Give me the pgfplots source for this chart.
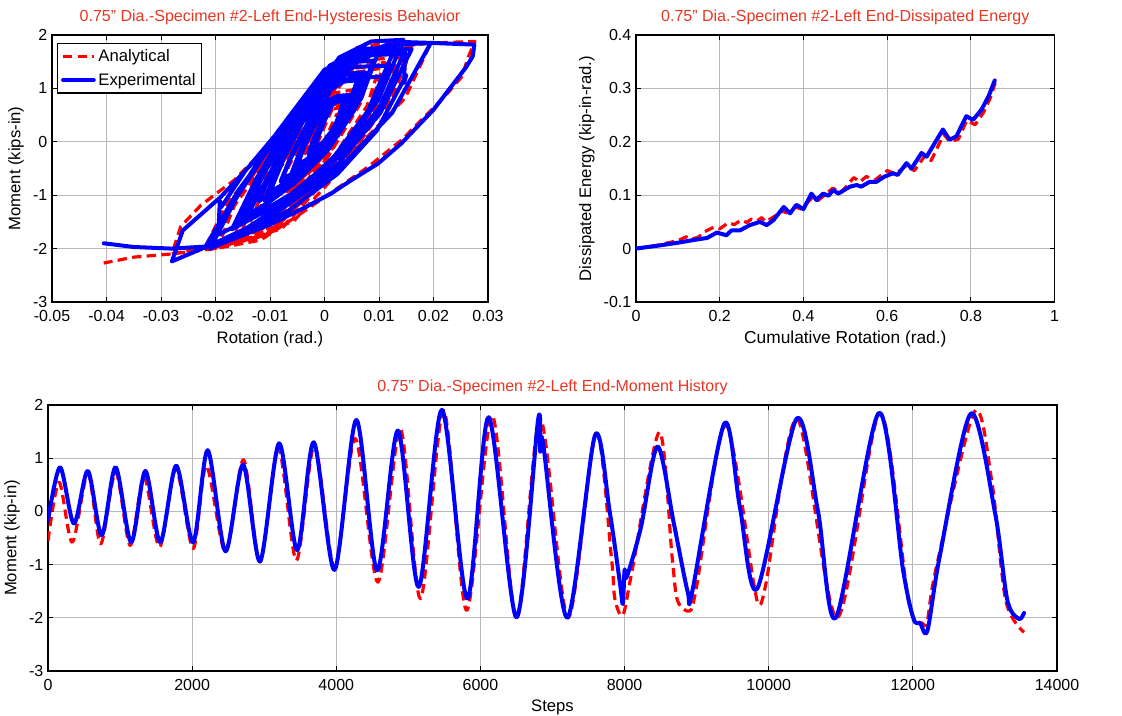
\documentclass[border=0pt]{standalone}
\usepackage{fontspec}
\setmainfont{Liberation Sans}
\usepackage{pgfplots}
\pgfplotsset{compat=1.18}
\definecolor{ttl}{RGB}{230,55,35}
\definecolor{mblue}{RGB}{0,0,255}
\definecolor{mred}{RGB}{255,0,0}
\pgfplotsset{
  mat/.style={
    scale only axis,
    anchor=south west,
    grid=major,
    grid style={black!28, line width=0.7pt},
    tick align=inside,
    tick style={black, line width=0.7pt},
    major tick length=3.5pt,
    axis line style={black, line width=1.2pt},
    every tick label/.append style={font=\fontsize{12}{14}\selectfont},
    every x tick label/.append style={yshift=-3pt},
    label style={font=\fontsize{12.5}{15}\selectfont},
    title style={font=\fontsize{12}{14}\selectfont, text=ttl, yshift=-2pt},
    /pgf/number format/assume math mode=true,
    /pgf/number format/1000 sep={},
    scaled ticks=false,
  },
  redd/.style={mred, line width=2.4pt, dash pattern=on 7pt off 4pt, line join=round},
  blu/.style={mblue, line width=3pt, line join=round, line cap=round},
}
\begin{document}
\begin{tikzpicture}[x=1pt,y=1pt]
\path[use as bounding box] (0,0) rectangle (841.5,536.25);
% ---------------- Hysteresis ----------------
\begin{axis}[mat, at={(39pt,309.75pt)}, width=327pt, height=200.25pt,
  xmin=-0.05, xmax=0.03, ymin=-3, ymax=2,
  xtick={-0.05,-0.04,-0.03,-0.02,-0.01,0,0.01,0.02,0.03},
  ytick={-3,-2,-1,0,1,2},
  xticklabel style={/pgf/number format/.cd, fixed, precision=2},
  xlabel={Rotation (rad.)}, ylabel={Moment (kips-in)},
  title={0.75" Dia.-Specimen \#2-Left End-Hysteresis Behavior},
  legend style={at={(0.012,0.97)}, anchor=north west, draw=black, line width=0.8pt,
    font=\fontsize{12.5}{15}\selectfont, inner sep=2.5pt, row sep=3pt},
  legend cell align=left,
  legend image code/.code={\draw[#1] (0pt,0pt) -- (23pt,0pt);},
]
\addplot[redd] coordinates {
(-0.002,-0.55)
(-0.0014,-0.31) (0.0004,0.11) (0.0022,0.51) (0.004,0.55)
(0.0033,0.26) (0.0012,-0.17) (-0.0009,-0.50) (-0.003,-0.58)
(-0.0024,-0.30) (-0.0004,0.19) (0.0016,0.66) (0.0035,0.71)
(0.0027,0.37) (0.0001,-0.13) (-0.0025,-0.52) (-0.005,-0.61)
(-0.0041,-0.31) (-0.0014,0.20) (0.0013,0.69) (0.004,0.74)
(0.0030,0.38) (0.0000,-0.14) (-0.0030,-0.54) (-0.006,-0.64)
(-0.0051,-0.36) (-0.0022,0.13) (0.0007,0.60) (0.0035,0.65)
(0.0026,0.31) (-0.0003,-0.19) (-0.0032,-0.58) (-0.006,-0.67)
(-0.0050,-0.35) (-0.0018,0.21) (0.0014,0.74) (0.0045,0.80)
(0.0035,0.41) (0.0003,-0.16) (-0.0029,-0.60) (-0.006,-0.70)
(-0.0048,-0.36) (-0.0012,0.24) (0.0024,0.80) (0.006,0.86)
(0.0046,0.44) (0.0004,-0.18) (-0.0038,-0.65) (-0.008,-0.76)
(-0.0067,-0.38) (-0.0028,0.28) (0.0011,0.90) (0.005,0.97)
(0.0035,0.47) (-0.0010,-0.26) (-0.0055,-0.82) (-0.01,-0.95)
(-0.0083,-0.48) (-0.0032,0.33) (0.0019,1.09) (0.007,1.18)
(0.0055,0.63) (0.0010,-0.16) (-0.0035,-0.77) (-0.008,-0.92)
(-0.0065,-0.44) (-0.0018,0.38) (0.0029,1.15) (0.0075,1.24)
(0.0057,0.64) (0.0001,-0.23) (-0.0055,-0.89) (-0.011,-1.05)
(-0.0089,-0.52) (-0.0026,0.40) (0.0037,1.27) (0.010,1.37)
(0.0078,0.67) (0.0012,-0.36) (-0.0054,-1.14) (-0.012,-1.33)
(-0.0099,-0.70) (-0.0036,0.40) (0.0027,1.43) (0.009,1.55)
(0.0066,0.72) (-0.0006,-0.49) (-0.0078,-1.42) (-0.015,-1.64)
(-0.0121,-0.86) (-0.0032,0.48) (0.0057,1.76) (0.0145,1.90)
(0.0114,0.92) (0.0019,-0.51) (-0.0076,-1.60) (-0.017,-1.86)
(-0.0140,-1.05) (-0.0050,0.34) (0.0040,1.65) (0.013,1.80)
(0.0096,0.81) (-0.0006,-0.64) (-0.0108,-1.75) (-0.021,-2.02)
(-0.0174,-1.19) (-0.0067,0.24) (0.0041,1.59) (0.0148,1.74)
(0.0112,0.77) (0.0005,-0.65) (-0.0103,-1.74) (-0.021,-2.0)
(-0.0177,-1.24) (-0.0078,0.08) (0.0021,1.33) (0.012,1.47)
(0.0089,0.58) (-0.0006,-0.72) (-0.0101,-1.71) (-0.0195,-1.95)
(-0.0165,-1.19) (-0.0073,0.11) (0.0019,1.35) (0.011,1.49)
(0.0083,0.62) (0.0002,-0.66) (-0.0079,-1.63) (-0.016,-1.87)
(-0.0130,-1.10) (-0.0038,0.22) (0.0054,1.48) (0.0145,1.62)
(0.0116,0.75) (0.0029,-0.53) (-0.0058,-1.50) (-0.0145,-1.74)
(-0.0115,-0.97) (-0.0023,0.35) (0.0069,1.60) (0.016,1.74)
(0.0122,0.77) (0.0008,-0.65) (-0.0106,-1.74) (-0.022,-2.0)
(-0.0179,-1.15) (-0.0054,0.31) (0.0071,1.70) (0.0195,1.85)
(0.0148,0.82) (0.0005,-0.68) (-0.0138,-1.82) (-0.028,-2.1)
(-0.0264,-1.59) (-0.0227,-1.19) (-0.0166,-0.72) (-0.0129,-0.34) (-0.0086,-0.03) (-0.0043,0.41) (0.0018,0.97) (0.0049,1.47) (0.011,1.72) (0.017,1.84) (0.0276,1.88)
(0.0264,1.59) (0.0252,1.22) (0.022,0.84) (0.0184,0.47) (0.0141,0.03) (0.008,-0.47) (0.0018,-0.91) (-0.0043,-1.34) (-0.0117,-1.84) (-0.02,-2.0) (-0.028,-2.1) (-0.035,-2.16) (-0.0405,-2.27)
};
\addlegendentry{Analytical}
\addplot[blu] coordinates {
(-0.002,-0.17)
(-0.0011,0.11) (0.0001,0.41) (0.0016,0.73) (0.0028,0.82) (0.004,0.83)
(0.0030,0.49) (0.0015,0.23) (-0.0002,0.0) (-0.0016,-0.12) (-0.003,-0.23)
(-0.0020,0.05) (-0.0007,0.34) (0.0009,0.66) (0.0022,0.75) (0.0035,0.76)
(0.0022,0.37) (0.0005,0.07) (-0.0016,-0.18) (-0.0033,-0.33) (-0.005,-0.45)
(-0.0037,-0.09) (-0.0019,0.29) (0.0004,0.70) (0.0022,0.82) (0.004,0.83)
(0.0025,0.38) (0.0005,0.03) (-0.0020,-0.27) (-0.0040,-0.44) (-0.006,-0.58)
(-0.0046,-0.20) (-0.0027,0.20) (-0.0003,0.63) (0.0016,0.75) (0.0035,0.76)
(0.0021,0.33) (0.0002,0.0) (-0.0022,-0.29) (-0.0041,-0.45) (-0.006,-0.58)
(-0.0044,-0.18) (-0.0023,0.26) (0.0003,0.72) (0.0024,0.85) (0.0045,0.86)
(0.0029,0.40) (0.0008,0.04) (-0.0018,-0.26) (-0.0039,-0.44) (-0.006,-0.58)
(-0.0042,-0.10) (-0.0018,0.42) (0.0012,0.98) (0.0036,1.13) (0.006,1.15)
(0.0039,0.54) (0.0011,0.07) (-0.0024,-0.33) (-0.0052,-0.56) (-0.008,-0.75)
(-0.0061,-0.29) (-0.0035,0.20) (-0.0002,0.72) (0.0024,0.86) (0.005,0.88)
(0.0028,0.30) (-0.0003,-0.16) (-0.0040,-0.54) (-0.0070,-0.76) (-0.01,-0.94)
(-0.0075,-0.32) (-0.0041,0.35) (0.0002,1.06) (0.0036,1.26) (0.007,1.28)
(0.0048,0.64) (0.0018,0.13) (-0.0020,-0.29) (-0.0050,-0.53) (-0.008,-0.73)
(-0.0057,-0.16) (-0.0026,0.45) (0.0013,1.10) (0.0044,1.28) (0.0075,1.30)
(0.0047,0.53) (0.0010,-0.07) (-0.0036,-0.57) (-0.0073,-0.86) (-0.011,-1.10)
(-0.0079,-0.31) (-0.0037,0.54) (0.0016,1.44) (0.0058,1.69) (0.010,1.72)
(0.0067,0.81) (0.0023,0.11) (-0.0032,-0.49) (-0.0076,-0.83) (-0.012,-1.11)
(-0.0089,-0.37) (-0.0047,0.42) (0.0006,1.26) (0.0048,1.49) (0.009,1.52)
(0.0054,0.58) (0.0006,-0.16) (-0.0054,-0.77) (-0.0102,-1.13) (-0.015,-1.42)
(-0.0106,-0.49) (-0.0047,0.51) (0.0027,1.58) (0.0086,1.88) (0.0145,1.91)
(0.0098,0.77) (0.0035,-0.11) (-0.0044,-0.86) (-0.0107,-1.29) (-0.017,-1.64)
(-0.0125,-0.69) (-0.0065,0.34) (0.0010,1.43) (0.0070,1.74) (0.013,1.77)
(0.0079,0.57) (0.0011,-0.37) (-0.0074,-1.16) (-0.0142,-1.61) (-0.021,-1.99)
(-0.0158,-0.95) (-0.0088,0.16) (0.0000,1.35) (0.0070,1.68) (0.0148,1.72)
(0.0146,1.10) (0.0150,1.25)
(0.0096,0.21) (0.0024,-0.60) (-0.0066,-1.29) (-0.0138,-1.68) (-0.021,-2.0)
(-0.0161,-1.04) (-0.0095,-0.01) (-0.0012,1.09) (0.0054,1.40) (0.012,1.43)
(0.0073,0.42) (0.0010,-0.38) (-0.0069,-1.04) (-0.0132,-1.42) (-0.0195,-1.74)
(-0.0192,-1.10) (-0.019,-1.23)
(-0.0145,-0.54) (-0.0085,0.19) (-0.0010,0.98) (0.0050,1.20) (0.011,1.22)
(0.0070,0.34) (0.0016,-0.34) (-0.0052,-0.92) (-0.0106,-1.25) (-0.016,-1.52)
(-0.0114,-0.63) (-0.0053,0.32) (0.0023,1.33) (0.0084,1.62) (0.0145,1.65)
(0.0102,0.66) (0.0044,-0.12) (-0.0029,-0.77) (-0.0087,-1.14) (-0.0145,-1.45)
(-0.0099,-0.56) (-0.0038,0.40) (0.0038,1.42) (0.0099,1.71) (0.016,1.74)
(0.0103,0.55) (0.0027,-0.39) (-0.0068,-1.17) (-0.0144,-1.62) (-0.022,-1.99)
(-0.0158,-0.91) (-0.0075,0.24) (0.0029,1.47) (0.0112,1.81) (0.0195,1.85)
(0.0124,0.54) (0.0029,-0.48) (-0.0090,-1.34) (-0.0185,-1.83) (-0.028,-2.24)
(-0.026,-1.66) (-0.019,-1.03) (-0.0104,-0.09) (-0.0043,0.59) (0.0043,1.41) (0.0117,1.78) (0.0141,1.87) (0.020,1.85) (0.0275,1.82)
(0.0272,1.6) (0.026,1.4) (0.02,0.6) (0.0141,-0.03) (0.0098,-0.41) (0.0049,-0.72) (0.0012,-0.97) (-0.004,-1.25) (-0.01,-1.55) (-0.02,-1.95) (-0.028,-2.0) (-0.035,-1.97) (-0.0405,-1.9)
};
\addlegendentry{Experimental}
\end{axis}
% ---------------- Dissipated energy ----------------
\begin{axis}[mat, at={(477pt,309.75pt)}, width=314pt, height=200.25pt,
  xmin=0, xmax=1, ymin=-0.1, ymax=0.4,
  xtick={0,0.2,0.4,0.6,0.8,1}, ytick={-0.1,0,0.1,0.2,0.3,0.4},
  xticklabel style={/pgf/number format/.cd, fixed, precision=1},
  yticklabel style={/pgf/number format/.cd, fixed, precision=1},
  xlabel={Cumulative Rotation (rad.)}, ylabel={Dissipated Energy (kip-in-rad.)},
  xlabel style={font=\fontsize{13}{15}\selectfont},
  title={0.75" Dia.-Specimen \#2-Left End-Dissipated Energy},
]
\addplot[redd] coordinates {
(0,0) (0.05,0.006) (0.1,0.015) (0.12,0.022) (0.135,0.018) (0.15,0.022) (0.16,0.03)
(0.185,0.04) (0.2,0.037) (0.22,0.048) (0.235,0.045) (0.25,0.053) (0.265,0.049)
(0.275,0.055) (0.29,0.052) (0.3,0.058) (0.31,0.05) (0.33,0.06) (0.35,0.07) (0.36,0.067)
(0.38,0.078) (0.395,0.074) (0.42,0.095) (0.435,0.09) (0.45,0.1) (0.47,0.113) (0.49,0.105)
(0.52,0.133) (0.535,0.125) (0.55,0.135) (0.57,0.128) (0.6,0.146) (0.62,0.14) (0.645,0.155)
(0.665,0.146) (0.69,0.174) (0.705,0.165) (0.735,0.214) (0.75,0.2) (0.77,0.205)
(0.79,0.24) (0.81,0.232) (0.83,0.255) (0.845,0.28) (0.858,0.31)
};
\addplot[blu] coordinates {
(0,0) (0.057,0.006) (0.1,0.011) (0.137,0.016) (0.17,0.02) (0.193,0.03) (0.216,0.025)
(0.228,0.034) (0.248,0.034) (0.272,0.044) (0.296,0.05) (0.312,0.044) (0.328,0.053)
(0.353,0.078) (0.368,0.066) (0.383,0.082) (0.4,0.074) (0.419,0.103) (0.431,0.091)
(0.447,0.103) (0.46,0.099) (0.471,0.11) (0.483,0.103) (0.511,0.116) (0.527,0.119)
(0.538,0.116) (0.558,0.125) (0.574,0.125) (0.594,0.135) (0.614,0.141) (0.625,0.138)
(0.646,0.160) (0.658,0.150) (0.682,0.179) (0.694,0.172) (0.733,0.223) (0.749,0.204)
(0.765,0.21) (0.789,0.248) (0.805,0.241) (0.825,0.26) (0.842,0.285) (0.857,0.315)
};
\end{axis}
% ---------------- Moment history ----------------
\begin{axis}[mat, at={(36pt,33pt)}, width=756.75pt, height=199.5pt,
  xmin=0, xmax=14000, ymin=-3, ymax=2,
  xtick={0,2000,4000,6000,8000,10000,12000,14000},
  ytick={-3,-2,-1,0,1,2},
  xlabel={Steps}, ylabel={Moment (kip-in)},
  title={0.75" Dia.-Specimen \#2-Left End-Moment History},
]
\addplot[redd, smooth, tension=0.5] coordinates {
(0,-0.55) (154,0.55) (337,-0.58) (553,0.71) (731,-0.61) (938,0.74) (1140,-0.64)
(1332,0.65) (1548,-0.67) (1774,0.80) (2014,-0.70) (2197,0.86) (2462,-0.76)
(2712,0.97) (2942,-0.95) (3197,1.18) (3447,-0.92) (3697,1.24) (3976,-1.05)
(4264,1.37) (4577,-1.33) (4889,1.55) (5168,-1.64) (5490,1.90) (5808,-1.86)
(6163,1.80) (6500,-2.02) (6830,1.74) (7214,-2.0) (7600,1.47) (7817,-0.86)
(7865,-1.64) (7976,-1.95) (8106,-1.1) (8482,1.49) (8660,-0.86) (8733,-1.67)
(8901,-1.87) (8998,-1.42) (9398,1.62) (9793,-1.36) (9865,-1.74) (9961,-1.36)
(10395,1.74) (10949,-2.0) (11542,1.85) (11937,-1.67) (12130,-2.1) (12202,-2.05)
(12318,-1.1) (12853,1.87) (13094,0.58) (13288,-1.67) (13542,-2.27)
};
\addplot[blu, smooth, tension=0.5] coordinates {
(0,-0.17) (168,0.83) (360,-0.23) (553,0.76) (745,-0.45) (938,0.83) (1154,-0.58)
(1351,0.76) (1558,-0.58) (1779,0.86) (2014,-0.58) (2216,1.15) (2462,-0.75)
(2707,0.88) (2942,-0.94) (3207,1.28) (3457,-0.73) (3688,1.30) (3976,-1.10)
(4279,1.72) (4567,-1.11) (4856,1.52) (5144,-1.42) (5466,1.91) (5817,-1.64)
(6115,1.77) (6500,-1.99) (6800,1.72) (6830,1.12) (6870,1.27) (7205,-2.0)
(7590,1.43) (7793,0) (7937,-1.36) (7976,-1.74) (8000,-1.1) (8030,-1.23)
(8227,-0.3) (8458,1.22) (8684,-0.23) (8877,-1.52) (8940,-1.50) (9383,1.65)
(9600,0.08) (9841,-1.45) (10386,1.74) (10684,0) (10935,-1.99) (11528,1.85)
(11865,-1.11) (12010,-2.02) (12100,-2.1) (12202,-2.24) (12371,-0.86) (12805,1.84)
(13142,-0.04) (13311,-1.67) (13470,-2.02) (13542,-1.91)
};
\end{axis}
\end{tikzpicture}
\end{document}
